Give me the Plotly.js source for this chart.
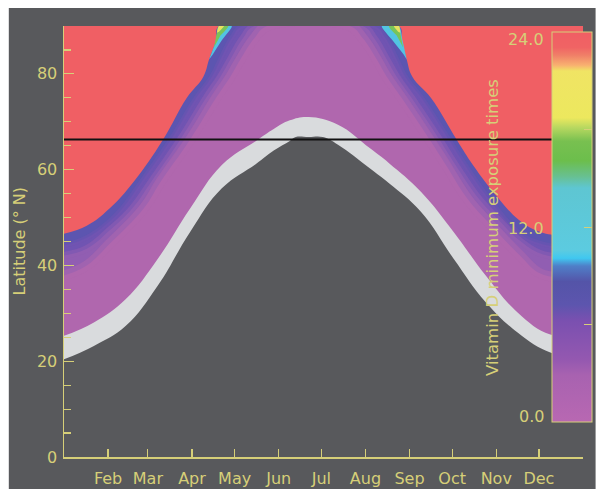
<!DOCTYPE html>
<html>
<head>
<meta charset="utf-8">
<script src="https://cdn.plot.ly/plotly-3.0.1.min.js"></script>
<style>html,body{margin:0;padding:0;background:#fff;}#chart{width:613px;height:489px;}</style>
</head>
<body>
<div id="chart"></div>
<script>
// ---- Data (x = day of year, y = latitude °N) ----
const monthTickDays = [31, 59, 90, 120, 151, 181, 212, 243, 273, 304, 334];
const monthLabels = ["Feb","Mar","Apr","May","Jun","Jul","Aug","Sep","Oct","Nov","Dec"];

// boundary of the red (24 h) region
const redLeftDay  = [0, 16, 32, 49, 69.5, 86.4, 98, 102, 107, 109];
const redLeftLat  = [46.6, 48.3, 51.9, 57.5, 66.2, 75.0, 79.4, 83, 87.1, 90];
const redRightDay = [235.5, 237.5, 241, 245, 258, 276.3, 287.6, 305.6, 320, 335, 350, 365];
const redRightLat = [90, 87.1, 83, 79.4, 75, 66.2, 61, 54, 49.5, 47, 46.3, 46.6];

// inner edges of the colour bands next to the red region
const band1Day = [0, 16, 32, 41, 54.6, 75, 93, 104, 110, 118, 126, 218, 226, 234, 240, 251.4, 270.8, 282, 298.6, 320, 335, 350, 365];
const band1Lat = [44.2, 45.8, 49.2, 51.9, 57.5, 66.2, 75, 79.4, 83, 87.5, 90, 90, 87.5, 83, 79.4, 75, 66.2, 61, 54, 46.8, 44.6, 43.9, 44.2];
const band2Day = [0, 16, 32, 48, 61.4, 81.6, 100, 110, 117, 126, 134, 210, 218, 227, 234, 244.4, 264.2, 275.3, 291.6, 306, 320, 335, 350, 365];
const band2Lat = [42.1, 43.5, 47.3, 51.9, 57.5, 66.2, 75, 79.4, 83, 87.5, 90, 90, 87.5, 83, 79.4, 75, 66.2, 61, 54, 49.4, 45.3, 42.5, 41.8, 42.1];
const band3Day = [0, 16, 32, 56, 68, 88.5, 107, 117, 124, 134, 143, 201, 210, 220, 227, 237.4, 257.3, 268.6, 283.6, 300, 320, 335, 350, 365];
const band3Lat = [37.9, 40, 44.5, 51.9, 57.5, 66.2, 75, 79.4, 83, 87.5, 90, 90, 87.5, 83, 79.4, 75, 66.2, 61, 54, 48.5, 42.3, 38.3, 37.6, 37.9];

// thin rainbow wedges near the top edge
const cyanLDay = [102, 107, 109, 118, 111, 104.5];
const cyanLLat = [83, 87.1, 90, 90, 87, 84];
const greenLDay = [105.5, 107.5, 109, 115.5, 110];
const greenLLat = [85.5, 88.5, 90, 90, 88];
const yellowLDay = [107.5, 109, 112.5, 109];
const yellowLLat = [88.6, 90, 90, 88.8];
const cyanRDay = [241, 238, 235.5, 223.5, 231, 239];
const cyanRLat = [83, 87.1, 90, 90, 87, 84];
const greenRDay = [238.5, 236.5, 235.5, 228.5, 234];
const greenRLat = [85.5, 88.5, 90, 90, 88];
const yellowRDay = [236.5, 235.5, 232, 235];
const yellowRLat = [88.6, 90, 90, 88.8];

// white band: upper edge and lower (dark) edge
const whiteTopDay = [0, 21, 43.5, 66, 88.7, 111, 135, 147.5, 158.8, 172, 192.7, 215, 228.8, 251, 274, 296.6, 319, 342, 365];
const whiteTopLat = [25.3, 28.1, 33.0, 41.4, 51.9, 61.0, 66.0, 68.5, 70.3, 71.0, 69.4, 64.5, 61.3, 55.4, 47.0, 37.9, 30.2, 25.6, 25.3];
const darkTopDay = [0, 21, 43.5, 66, 88.7, 111, 135, 147.5, 158.8, 163, 172, 182, 192.7, 215, 228.8, 251, 274, 296.6, 319, 342, 365];
const darkTopLat = [20.4, 23.2, 27.4, 35.8, 47.0, 56.1, 61.2, 64.0, 66.0, 66.8, 66.8, 66.8, 65.2, 60.3, 57.1, 51.2, 41.4, 32.3, 26.0, 21.8, 20.4];

const arcticLat = 66.3;

// colour bar
const cbStops  = [0, 0.12, 0.16, 0.26, 0.30, 0.36, 0.40, 0.42, 0.44, 0.60, 0.63, 0.67, 0.72, 0.755, 0.78, 0.90, 0.915, 0.94, 0.96, 1];
const cbColors = ['#b868b2','#a862b0','#9458b0','#7a50b0','#5d55ae','#5454a8','#4f7fc8','#40c8f0','#5ccbe0','#5ec6d2','#68c090','#6cbe4c','#78c050','#b8d860','#ece85e','#f0e464','#f8b070','#f08068','#f06464','#f05e64'];
const cbTickVals = [6, 12, 18];
const cbLabels = ["24.0", "12.0", "0.0"];

// ---- styling ----
const YEL = '#d6cf78';
const FONT = 'DejaVu Sans';
const RED = '#f05f64', DARK = '#58595c';

const L = 64, R = 13, T = 26, B = 32, W = 613, H = 489;
const PW = W - L - R, PH = H - T - B;
const px2x = p => (p - L) / PW;
const px2y = p => (H - B - p) / PH;

function fillTrace(x, y, color, blur, blurColor) {
  return {x, y, type: 'scatter', mode: 'lines', fill: 'tozeroy', fillcolor: color,
          line: {width: blur || 0, shape: 'spline', smoothing: 1.2, color: blurColor || color},
          hoverinfo: 'skip', showlegend: false};
}
function wedge(x, y, color) {
  return {x, y, type: 'scatter', mode: 'lines', fill: 'toself', fillcolor: color,
          line: {width: 0, shape: 'spline', smoothing: 0.8, color: color}, hoverinfo: 'skip', showlegend: false};
}

const domeDay = redLeftDay.concat(redRightDay);
const domeLat = redLeftLat.concat(redRightLat);

const traces = [
  fillTrace(domeDay, domeLat, '#5c55b0'),
  fillTrace(band1Day, band1Lat, '#7054b2', 5, 'rgba(112,84,178,0.5)'),
  fillTrace(band2Day, band2Lat, '#915eb2', 7, 'rgba(145,94,178,0.5)'),
  fillTrace(band3Day, band3Lat, '#b067ae', 10, 'rgba(176,103,174,0.5)'),
  wedge(cyanLDay, cyanLLat, '#52c4e2'),
  wedge(greenLDay, greenLLat, '#78c45a'),
  wedge(yellowLDay, yellowLLat, '#e8e060'),
  wedge(cyanRDay, cyanRLat, '#52c4e2'),
  wedge(greenRDay, greenRLat, '#78c45a'),
  wedge(yellowRDay, yellowRLat, '#e8e060'),
  fillTrace(whiteTopDay, whiteTopLat, '#d9dbdd'),
  fillTrace(darkTopDay, darkTopLat, DARK),
  { // colour bar holder
    x: [-50, -50], y: [-50, -50], type: 'scatter', mode: 'markers', hoverinfo: 'skip', showlegend: false,
    marker: {size: 1, opacity: 0, color: [0, 24], cmin: 0, cmax: 24,
      colorscale: cbStops.map((s, i) => [s, cbColors[i]]), showscale: true,
      colorbar: {x: px2x(568), xanchor: 'left', xref: 'paper', y: px2y(227), yanchor: 'middle',
        len: 390 / PH, lenmode: 'fraction', thickness: 40, thicknessmode: 'pixels',
        outlinewidth: 1, outlinecolor: YEL, xpad: 0, ypad: 0, borderwidth: 0,
        bgcolor: 'rgba(0,0,0,0)', showticklabels: false, tickmode: 'array', tickvals: cbTickVals,
        ticks: 'inside', ticklen: 8, tickcolor: YEL, tickwidth: 1}}
  }
];

const annotations = [
  {text: 'Latitude (° N)', xref: 'paper', yref: 'paper', x: px2x(18.5), y: px2y(241.5), textangle: -90,
   showarrow: false, font: {family: FONT, size: 16, color: YEL}, xanchor: 'center', yanchor: 'middle'},
  {text: 'Vitamin D minimum exposure times', xref: 'paper', yref: 'paper', x: px2x(506), y: px2y(227), textangle: -90,
   showarrow: false, font: {family: FONT, size: 16.5, color: YEL}, xanchor: 'center', yanchor: 'middle'}
];
const cbLabelY = [39, 229, 416];
cbLabels.forEach((t, i) => annotations.push({text: t, xref: 'paper', yref: 'paper', x: px2x(562), y: px2y(cbLabelY[i]),
  xanchor: 'right', yanchor: 'middle', showarrow: false, font: {family: FONT, size: 16, color: YEL}}));

const layout = {
  width: W, height: H, margin: {l: L, r: R, t: T, b: B, pad: 0},
  paper_bgcolor: '#ffffff', plot_bgcolor: 'rgba(0,0,0,0)', showlegend: false,
  xaxis: {range: [0, 365], tickmode: 'array', tickvals: monthTickDays, ticktext: monthLabels,
    ticks: 'inside', ticklen: 8, tickwidth: 1.2, tickcolor: YEL, showline: true, linecolor: YEL, linewidth: 1.5,
    ticklabelstandoff: 6,
    showgrid: false, zeroline: false, tickfont: {family: FONT, size: 16, color: YEL}, fixedrange: true},
  yaxis: {range: [0, 90], tickmode: 'linear', tick0: 0, dtick: 20,
    ticks: 'inside', ticklen: 10, tickwidth: 1.2, tickcolor: YEL, showline: true, linecolor: YEL, linewidth: 1.5,
    ticklabelstandoff: 2,
    minor: {ticks: 'inside', ticklen: 7, tickcolor: YEL, tickwidth: 1.2, dtick: 5, tick0: 0, showgrid: false},
    showgrid: false, zeroline: false, tickfont: {family: FONT, size: 16, color: YEL}, fixedrange: true},
  shapes: [
    {type: 'rect', xref: 'paper', yref: 'paper', x0: px2x(7), x1: px2x(W), y0: px2y(H), y1: px2y(8),
     fillcolor: DARK, line: {width: 0}, layer: 'below'},
    {type: 'rect', xref: 'x', yref: 'y', x0: 0, x1: 365, y0: 0, y1: 90, fillcolor: RED, line: {width: 0}, layer: 'below'},
    {type: 'line', xref: 'x', yref: 'y', x0: 0, x1: 365, y0: arcticLat, y1: arcticLat, line: {color: '#111111', width: 2}, layer: 'above'}
  ],
  annotations: annotations
};

Plotly.newPlot('chart', traces, layout, {displayModeBar: false, staticPlot: true});
</script>
</body>
</html>
